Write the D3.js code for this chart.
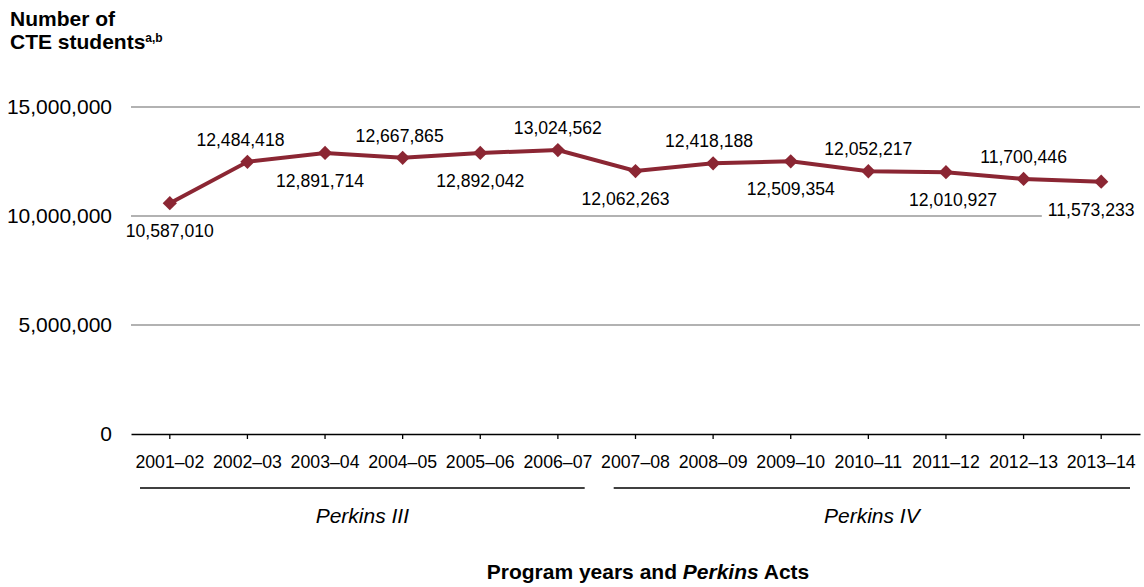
<!DOCTYPE html>
<html><head><meta charset="utf-8">
<script src="https://cdn.jsdelivr.net/npm/d3@7"></script>
<style>body{margin:0;background:#fff}svg{display:block;font-family:"Liberation Sans",Arial,sans-serif}</style>
</head><body><svg id="c" width="1144" height="587"></svg>
<script>
const years = ["2001–02","2002–03","2003–04","2004–05","2005–06","2006–07","2007–08","2008–09","2009–10","2010–11","2011–12","2012–13","2013–14"];
const students = [10587010,12484418,12891714,12667865,12892042,13024562,12062263,12418188,12509354,12052217,12010927,11700446,11573233];
const labelPos = ["below","above","below","above","below","above","below","above","below","above","below","above","below"];
const yTicks = [0,5000000,10000000,15000000];
const acts = [{name:"Perkins III", from:"2001–02", to:"2006–07"},{name:"Perkins IV", from:"2007–08", to:"2013–14"}];

(function(){
const svg = d3.select("#c");
const color = "#8b2633";
const mL = 131, mR = 1140, mT = 107, mB = 434;
const x = d3.scaleBand().domain(years).range([mL, mR]);
const y = d3.scaleLinear().domain([0,15000000]).range([mB, mT]);
const fmt = d3.format(",");
// small horizontal label nudges (layout only)
const nudge = {"2002–03":-7,"2003–04":-5,"2004–05":-3,"2007–08":-10,"2008–09":-4,"2011–12":7,"2013–14":-10};

svg.append("g").selectAll("line").data(yTicks.filter(d=>d>0)).join("line")
  .attr("x1", mL).attr("x2", mR).attr("y1", d=>y(d)).attr("y2", d=>y(d))
  .attr("stroke", "#999").attr("stroke-width", 1.3);
svg.append("g").selectAll("text").data(yTicks).join("text")
  .attr("x", 112).attr("y", d=>y(d)).attr("dy","0.35em").attr("text-anchor","end")
  .attr("font-size", 21).text(d=>fmt(d));

const xa = svg.append("g").attr("transform", `translate(0,${mB})`)
  .call(d3.axisBottom(x).tickSize(5).tickSizeOuter(0));
xa.select(".domain").attr("stroke","#000").attr("stroke-width",1.3);
xa.selectAll(".tick line").attr("stroke","#000").attr("stroke-width",1.3);
xa.selectAll(".tick text").attr("font-size",17.7).attr("fill","#000").attr("y",21)
  .attr("font-family","'Liberation Sans',Arial,sans-serif");

const bw = x.bandwidth();
acts.forEach((a,i)=>{
  const x1 = x(a.from) + (i===0 ? 9 : 17);
  const x2 = x(a.to) + bw - (i===0 ? 12 : 10);
  svg.append("line").attr("x1",x1).attr("x2",x2).attr("y1",488).attr("y2",488)
    .attr("stroke","#000").attr("stroke-width",1.3);
  svg.append("text").attr("x",(x1+x2)/2).attr("y",523).attr("text-anchor","middle")
    .attr("font-size",21).attr("font-style","italic").text(a.name);
});

const xt = svg.append("text").attr("x",648).attr("y",579).attr("text-anchor","middle")
  .attr("font-size",21).attr("font-weight","bold");
xt.append("tspan").text("Program years and ");
xt.append("tspan").attr("font-style","italic").text("Perkins");
xt.append("tspan").text(" Acts");

const t = svg.append("text").attr("x",10).attr("font-size",21).attr("font-weight","bold");
t.append("tspan").attr("x",10).attr("y",26).text("Number of");
t.append("tspan").attr("x",10).attr("y",49).text("CTE students");
t.append("tspan").attr("font-size",12).attr("dy",-7).text("a,b");

const cx = d => x(d) + bw/2;
const data = years.map((yr,i)=>({yr, v:students[i], pos:labelPos[i]}));
const lbl = svg.append("g").selectAll("g").data(data).join("g");
lbl.each(function(d,i){
  const g = d3.select(this);
  const lx = cx(d.yr) + (nudge[d.yr] || 0);
  const ly = d.pos === "above" ? y(d.v) - 22 : y(d.v) + 28;
  const txt = g.append("text").attr("x",lx).attr("y",ly).attr("dy","0.35em")
    .attr("text-anchor","middle").attr("font-size",17.6).text(fmt(d.v));
  if (i === data.length-1) {
    const b = txt.node().getBBox();
    g.insert("rect","text").attr("x",b.x-6).attr("y",b.y).attr("width",b.width+12).attr("height",b.height).attr("fill","#fff");
  }
});

svg.append("path").datum(data)
  .attr("d", d3.line().x(d=>cx(d.yr)).y(d=>y(d.v)))
  .attr("fill","none").attr("stroke",color).attr("stroke-width",4);
svg.append("g").selectAll("path").data(data).join("path")
  .attr("transform", d=>`translate(${cx(d.yr)},${y(d.v)})`)
  .attr("d", d3.symbol(d3.symbolDiamond2, 130))
  .attr("fill", color);
})();
</script></body></html>
